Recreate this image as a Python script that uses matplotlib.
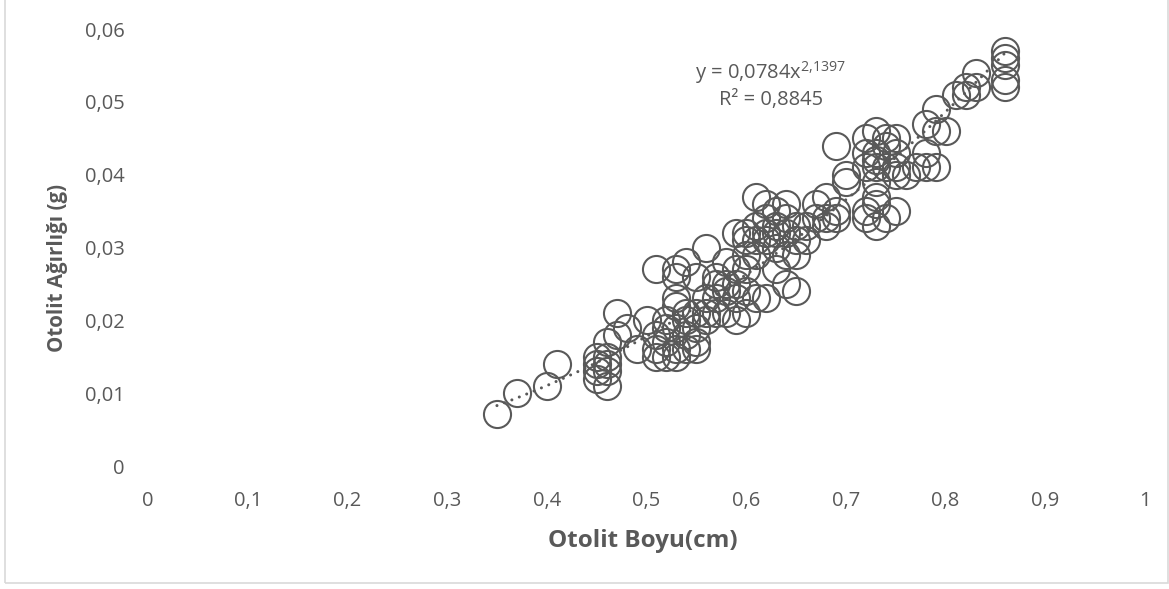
import matplotlib
matplotlib.use("Agg")
import matplotlib.pyplot as plt
import numpy as np
from matplotlib.ticker import FuncFormatter, MultipleLocator
from matplotlib.patches import Rectangle

otolit_boyu = [
    0.35, 0.37, 0.40, 0.41,
    0.45, 0.45, 0.45, 0.45, 0.46, 0.46, 0.46, 0.46,
    0.46, 0.47, 0.47, 0.48, 0.49, 0.50,
    0.51, 0.51, 0.51, 0.52, 0.52, 0.52, 0.52, 0.53, 0.53, 0.53, 0.53, 0.53,
    0.54, 0.54, 0.54, 0.54, 0.55, 0.55, 0.55, 0.55,
    0.51, 0.53, 0.54, 0.53,
    0.56, 0.55, 0.56, 0.56, 0.56,
    0.57, 0.59, 0.58, 0.57, 0.59, 0.60, 0.61, 0.60, 0.59, 0.60, 0.57, 0.58,
    0.59, 0.58, 0.58, 0.57,
    0.61, 0.62, 0.64, 0.63, 0.61, 0.60, 0.62, 0.64, 0.65, 0.65, 0.63, 0.65,
    0.63, 0.64, 0.65, 0.62, 0.61, 0.60, 0.60, 0.59, 0.62, 0.63, 0.64, 0.62,
    0.63, 0.64, 0.61,
    0.67, 0.68, 0.68, 0.69, 0.67, 0.69, 0.68, 0.66, 0.66,
    0.69, 0.70, 0.70,
    0.72, 0.72, 0.73, 0.72, 0.73, 0.72, 0.73, 0.73, 0.73,
    0.73, 0.73, 0.73, 0.74, 0.74, 0.74, 0.75, 0.75, 0.75, 0.75, 0.75,
    0.76, 0.77, 0.78, 0.78, 0.78, 0.79, 0.79, 0.79, 0.80, 0.81, 0.82, 0.82,
    0.83, 0.83, 0.86, 0.86, 0.86, 0.86, 0.86, 0.72, 0.74,
]
otolit_agirligi = [
    0.0072, 0.010, 0.011, 0.014,
    0.015, 0.014, 0.013, 0.012, 0.011, 0.013, 0.014, 0.015,
    0.017, 0.018, 0.021, 0.019, 0.016, 0.020,
    0.018, 0.016, 0.015, 0.020, 0.019, 0.017, 0.015, 0.023, 0.022, 0.019, 0.016, 0.015,
    0.021, 0.018, 0.016, 0.020, 0.019, 0.017, 0.016, 0.021,
    0.027, 0.027, 0.028, 0.026,
    0.030, 0.026, 0.023, 0.020, 0.021,
    0.026, 0.027, 0.024, 0.021, 0.023, 0.021, 0.023, 0.024, 0.025, 0.027, 0.023, 0.021,
    0.020, 0.025, 0.028, 0.025,
    0.037, 0.036, 0.036, 0.033, 0.033, 0.032, 0.032, 0.032, 0.033, 0.031, 0.030, 0.029,
    0.027, 0.025, 0.024, 0.023, 0.029, 0.031, 0.029, 0.032, 0.034, 0.035, 0.034, 0.031,
    0.032, 0.029, 0.031,
    0.036, 0.037, 0.034, 0.035, 0.034, 0.034, 0.033, 0.033, 0.031,
    0.044, 0.039, 0.040,
    0.041, 0.045, 0.046, 0.043, 0.043, 0.035, 0.033, 0.036, 0.039,
    0.042, 0.041, 0.037, 0.044, 0.041, 0.034, 0.045, 0.043, 0.041, 0.040, 0.035,
    0.040, 0.041, 0.047, 0.043, 0.041, 0.049, 0.046, 0.041, 0.046, 0.051, 0.052, 0.051,
    0.054, 0.052, 0.057, 0.056, 0.055, 0.053, 0.052, 0.034, 0.045,
]

# power trendline coefficients as shown on the chart
trend_a = 0.0784
trend_b = 2.1397
equation_text = r"y = 0,0784x$^{\mathregular{2{,}1397}}$"
r2_text = "R² = 0,8845"

x_label = "Otolit Boyu(cm)"
y_label = "Otolit Ağırlığı (g)"

GRAY = "#595959"
plt.rcParams['font.family'] = ['Open Sans', 'DejaVu Sans']
plt.rcParams['mathtext.fontset'] = 'custom'
plt.rcParams['mathtext.rm'] = 'Open Sans'

W, H = 1169, 589
fig = plt.figure(figsize=(W / 100, H / 100), dpi=100)
ax = fig.add_axes([148 / W, 1 - 466 / H, (1145 - 148) / W, (466 - 29) / H])

ax.plot(otolit_boyu, otolit_agirligi, linestyle='none', marker='o',
        markersize=19.5, markerfacecolor='none', markeredgecolor=GRAY,
        markeredgewidth=1.5, zorder=3)

xs = np.linspace(min(otolit_boyu), max(otolit_boyu), 200)
ax.plot(xs, trend_a * xs ** trend_b, linestyle=(0, (0.01, 2.6)), color=GRAY,
        linewidth=2.2, dash_capstyle='round', zorder=4)

ax.set_xlim(0, 1)
ax.set_ylim(0, 0.06)
ax.xaxis.set_major_locator(MultipleLocator(0.1))
ax.yaxis.set_major_locator(MultipleLocator(0.01))

def fmt(v, pos):
    s = f"{v:.2f}".rstrip('0').rstrip('.')
    return s.replace('.', ',')

ax.xaxis.set_major_formatter(FuncFormatter(fmt))
ax.yaxis.set_major_formatter(FuncFormatter(fmt))
for sp in ax.spines.values():
    sp.set_visible(False)
ax.tick_params(length=0, labelsize=14.5, colors=GRAY)
ax.tick_params(axis='x', pad=18)
ax.tick_params(axis='y', pad=17)

fig.text(643 / W, 1 - 541 / H, x_label, ha='center', va='center',
         fontsize=17.5, fontweight='bold', color=GRAY)
fig.text(57 / W, 1 - 268 / H, y_label, ha='center', va='center', rotation=90,
         fontsize=14.8, fontweight='bold', color=GRAY)

fig.text(770 / W, 1 - 73 / H, equation_text, ha='center', va='center',
         fontsize=14.5, color=GRAY)
fig.text(771 / W, 1 - 100 / H, r2_text, ha='center', va='center',
         fontsize=14.5, color=GRAY)

fig.patches.append(Rectangle((5 / W, 6 / H), 1 - 6 / W, 1.2, transform=fig.transFigure,
                             fill=False, edgecolor='#d9d9d9', linewidth=1.2))

fig.savefig("out.png", dpi=100)
